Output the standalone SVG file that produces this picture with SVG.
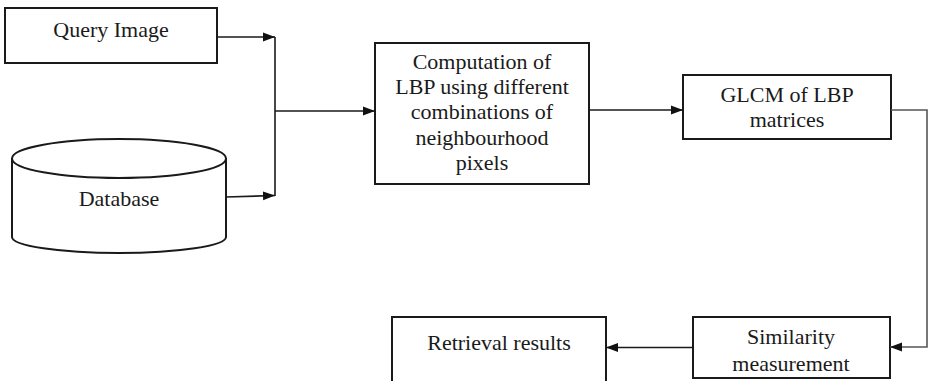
<svg xmlns="http://www.w3.org/2000/svg" width="928" height="381" viewBox="0 0 928 381">
  <style>
    .box { fill: #fff; stroke: #1a1a1a; stroke-width: 2; }
    .lbl { font-family: "Liberation Serif", "Times New Roman", serif; font-size: 22px; fill: #1a1a1a; text-anchor: middle; }
    .wire { fill: none; stroke: #1a1a1a; stroke-width: 1.6; }
    .wire.grey { stroke: #555; }
  </style>
  <defs>
    <marker id="arrow" markerUnits="userSpaceOnUse" markerWidth="13" markerHeight="10" refX="12" refY="5" orient="auto">
      <path d="M0,0.5 L12,5 L0,9.5 Z" fill="#111"/>
    </marker>
  </defs>

  <g id="query-image">
    <rect class="box" x="5" y="8" width="212" height="55"/>
    <text class="lbl" x="111" y="37">Query Image</text>
  </g>

  <g id="database">
    <path class="box" d="M12,158.5 V237 A107,16 0 0 0 226,237 V158.5"/>
    <ellipse class="box" cx="119" cy="158.5" rx="107" ry="19.5"/>
    <text class="lbl" x="119" y="206">Database</text>
  </g>

  <g id="lbp-computation">
    <rect class="box" x="375" y="43" width="214" height="141"/>
    <text class="lbl" x="482" y="69">Computation of</text>
    <text class="lbl" x="482" y="94">LBP using different</text>
    <text class="lbl" x="482" y="119">combinations of</text>
    <text class="lbl" x="482" y="145">neighbourhood</text>
    <text class="lbl" x="482" y="170">pixels</text>
  </g>

  <g id="glcm">
    <rect class="box" x="683" y="75" width="208" height="64"/>
    <text class="lbl" x="787" y="102">GLCM of LBP</text>
    <text class="lbl" x="787" y="127">matrices</text>
  </g>

  <g id="similarity">
    <rect class="box" x="693" y="317" width="197" height="61"/>
    <text class="lbl" x="791" y="344">Similarity</text>
    <text class="lbl" x="791" y="371">measurement</text>
  </g>

  <g id="retrieval">
    <rect class="box" x="392" y="317" width="214" height="70"/>
    <text class="lbl" x="499" y="350">Retrieval results</text>
  </g>

  <g id="connectors">
    <path class="wire" d="M217,37 H275" marker-end="url(#arrow)"/>
    <path class="wire" d="M226,197 L275,195.5" marker-end="url(#arrow)"/>
    <path class="wire" d="M275,37 V196"/>
    <path class="wire" d="M275,111 H375" marker-end="url(#arrow)"/>
    <path class="wire" d="M589,110 H683" marker-end="url(#arrow)"/>
    <path class="wire grey" d="M891,110 H927 V347 H890" marker-end="url(#arrow)"/>
    <path class="wire" d="M693,347.5 H606" marker-end="url(#arrow)"/>
  </g>
</svg>
